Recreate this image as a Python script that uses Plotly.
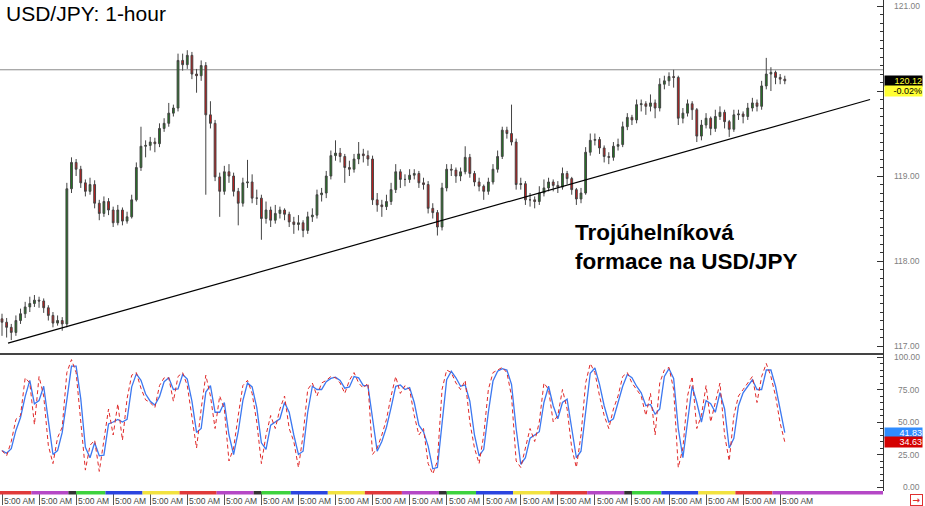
import plotly.graph_objects as go

# ---------------- data ----------------
first_open = 117.32
close = [117.28,117.22,117.16,117.30,117.38,117.46,117.50,117.54,117.53,117.45,
117.36,117.27,117.30,117.26,118.85,119.16,119.08,118.92,118.82,118.90,
118.68,118.56,118.70,118.60,118.45,118.60,118.47,118.52,118.72,119.10,
119.35,119.36,119.40,119.38,119.56,119.62,119.74,119.80,120.36,120.31,
120.42,120.20,120.18,120.30,119.72,119.62,118.99,118.82,119.05,119.00,
118.82,118.68,118.92,118.93,118.74,118.74,118.50,118.60,118.48,118.56,
118.60,118.55,118.46,118.43,118.45,118.36,118.52,118.54,118.78,118.80,
119.00,119.24,119.27,119.23,119.10,119.08,119.20,119.26,119.24,119.20,
118.72,118.66,118.64,118.70,118.84,119.05,118.96,118.96,119.01,119.03,
118.92,118.90,118.62,118.57,118.40,118.86,119.08,119.07,119.00,119.05,
119.22,119.03,118.93,118.88,118.82,118.93,119.08,119.23,119.54,119.50,
119.40,118.90,118.91,118.72,118.72,118.70,118.80,118.86,118.93,118.89,
118.87,119.03,118.97,118.84,118.73,118.80,119.28,119.42,119.43,119.33,
119.23,119.22,119.35,119.37,119.58,119.69,119.66,119.84,119.85,119.82,
119.86,119.80,120.08,120.12,120.17,120.16,119.68,119.74,119.85,119.78,
119.47,119.60,119.68,119.56,119.70,119.75,119.64,119.55,119.72,119.73,
119.70,119.80,119.86,119.82,120.06,120.20,120.22,120.16,120.14,120.12]

high = [117.38,117.33,117.26,117.36,117.44,117.52,117.58,117.60,117.58,117.56,
117.48,117.40,117.36,117.34,118.92,119.22,119.20,119.12,118.96,118.98,
118.95,118.72,118.76,118.74,118.64,118.66,118.63,118.58,118.78,119.16,
119.58,119.42,119.46,119.45,119.62,119.68,119.86,119.84,120.44,120.44,
120.48,120.46,120.26,120.36,120.34,119.88,119.66,119.04,119.12,119.14,
119.04,118.86,118.98,119.19,119.02,118.84,118.78,118.70,118.64,118.66,
118.64,118.62,118.58,118.52,118.54,118.48,118.58,118.62,118.84,118.86,
119.06,119.30,119.42,119.33,119.26,119.18,119.26,119.40,119.32,119.30,
119.24,118.80,118.72,118.78,118.92,119.14,119.08,119.02,119.08,119.08,
119.06,118.98,118.94,118.68,118.60,118.92,119.14,119.14,119.10,119.10,
119.35,119.26,119.06,118.98,118.90,118.98,119.14,119.30,119.58,119.58,
119.84,119.44,118.98,118.94,118.80,118.76,118.88,118.96,118.98,118.96,
118.94,119.10,119.06,118.99,118.86,118.86,119.34,119.50,119.50,119.46,
119.36,119.28,119.40,119.44,119.64,119.74,119.72,119.90,119.90,119.88,
119.96,119.90,120.15,120.18,120.22,120.25,120.18,119.80,119.90,119.88,
119.80,119.66,119.74,119.70,119.78,119.82,119.78,119.66,119.78,119.78,
119.76,119.86,119.92,119.90,120.12,120.39,120.28,120.24,120.20,120.18]

low = [117.12,117.10,117.07,117.12,117.26,117.33,117.40,117.46,117.45,117.39,
117.30,117.22,117.24,117.18,117.22,118.80,119.00,118.86,118.76,118.78,
118.62,118.48,118.52,118.54,118.40,118.42,118.42,118.44,118.50,118.70,
119.06,119.22,119.30,119.28,119.34,119.52,119.58,119.70,119.76,120.24,
120.26,120.14,119.98,120.12,118.78,119.56,118.94,118.52,118.78,118.92,
118.76,118.42,118.64,118.86,118.68,118.66,118.25,118.44,118.40,118.44,
118.50,118.48,118.40,118.32,118.36,118.28,118.32,118.46,118.50,118.70,
118.74,118.96,119.18,119.16,118.92,119.00,119.04,119.14,119.16,119.12,
118.66,118.58,118.52,118.60,118.66,118.80,118.86,118.88,118.92,118.96,
118.86,118.84,118.56,118.50,118.30,118.36,118.82,119.00,118.92,118.94,
119.02,118.98,118.88,118.82,118.72,118.78,118.90,119.04,119.20,119.44,
119.36,118.84,118.84,118.66,118.64,118.62,118.66,118.76,118.82,118.82,
118.80,118.84,118.90,118.78,118.66,118.68,118.78,119.24,119.36,119.26,
119.16,119.14,119.18,119.30,119.34,119.54,119.60,119.62,119.76,119.72,
119.76,119.68,119.76,120.02,120.06,120.04,119.60,119.62,119.70,119.66,
119.40,119.42,119.56,119.48,119.52,119.66,119.56,119.46,119.52,119.66,
119.62,119.66,119.76,119.76,119.78,120.02,120.00,120.08,120.08,120.08]

# stochastic %K (red)
stoch_k = [28,24,35,52,55,84,80,48,85,70,
32,18,38,46,88,98,88,48,13,32,
36,12,37,60,40,64,36,68,86,88,
76,67,65,61,78,84,84,66,85,88,
78,54,30,60,86,70,45,70,60,20,
30,55,78,82,72,50,18,40,55,45,
60,70,45,35,15,40,75,80,70,80,
82,85,84,80,72,82,88,80,76,80,
25,30,40,52,70,85,72,78,75,55,
40,45,18,10,20,75,90,88,80,75,
82,50,30,18,40,75,88,90,92,88,
70,20,15,30,45,35,50,80,75,50,
55,75,60,30,15,40,80,95,88,70,
55,45,60,70,85,88,80,75,70,55,
72,40,80,90,92,75,15,30,70,85,
45,55,78,50,65,80,40,20,55,70,
75,80,85,65,85,95,85,70,49.03,34.63]

candle_hours = 3            # each candle spans 3 hours
day_ticks = list(range(0, 505, 24))
day_label = "5:00 AM"
price_ticks = [117, 118, 119, 120, 121]
stoch_ticks = [0, 25, 50, 75, 100]
resistance = 120.25
trend_x = [3.9, 562.2]
trend_y = [117.035, 119.90]
pct_change = "-0.02%"
title_text = "USD/JPY: 1-hour"
note_text = "Trojúhelníková<br>formace na USD/JPY"
# session colour strip (hour boundaries and colours)
sess_bounds = [-1.3, 19, 43, 48, 67, 91, 115, 139, 163, 168, 187, 211, 235, 259, 283, 288,
               307, 331, 355, 379, 403, 408, 427, 451, 475, 499, 571]
sess_cycle = ["#e03a3a", "#b548c6", "#333333", "#3ed23e", "#2b45e0", "#f2e240"]

# ---------------- derived ----------------
n = len(close)
x = [candle_hours * i for i in range(n)]
opens = [first_open] + close[:-1]
stoch_d = [stoch_k[0]] + [(stoch_k[i] + stoch_k[i - 1]) / 2 for i in range(1, n)]

FONT = "Liberation Sans, Arial, sans-serif"
W, H = 925, 506
ML, MR, MT, MB = 0, 42, 0, 15
PW, PH = W - ML - MR, H - MT - MB
split = (PH - 353) / PH
xr = [-1.3, 570.6]
yr_main = [116.918, 121.071]
yr_st = [-3.08, 103.08]

fig = go.Figure()
fig.add_trace(go.Candlestick(
    x=x, open=opens, high=high, low=low, close=close,
    increasing=dict(fillcolor="#1f7a1f", line=dict(color="#444444", width=1)),
    decreasing=dict(fillcolor="#d01818", line=dict(color="#444444", width=1)),
    whiskerwidth=0, xaxis="x", yaxis="y", showlegend=False, hoverinfo="skip"))
fig.add_trace(go.Scatter(x=trend_x, y=trend_y, mode="lines",
                         line=dict(color="black", width=1.2),
                         xaxis="x", yaxis="y", showlegend=False, hoverinfo="skip"))
fig.add_trace(go.Scatter(x=x, y=stoch_d, mode="lines",
                         line=dict(color="#3c78f0", width=1.3),
                         xaxis="x2", yaxis="y2", showlegend=False, hoverinfo="skip"))
fig.add_trace(go.Scatter(x=x, y=stoch_k, mode="lines",
                         line=dict(color="#e02a2a", width=1.0, dash="4px,3px"),
                         xaxis="x2", yaxis="y2", showlegend=False, hoverinfo="skip"))

shapes = [dict(type="line", xref="paper", yref="y", x0=0, x1=1, y0=resistance, y1=resistance,
               line=dict(color="#8a8a8a", width=1), layer="below")]
for i in range(len(sess_bounds) - 1):
    shapes.append(dict(type="rect", xref="x2", yref="paper",
                       x0=sess_bounds[i], x1=sess_bounds[i + 1],
                       y0=-3.5 / PH, y1=0, fillcolor=sess_cycle[i % len(sess_cycle)],
                       line=dict(width=0), layer="above"))

ann = []
ann.append(dict(text=title_text, xref="paper", yref="paper", x=4 / PW, y=1.0,
                xanchor="left", yanchor="top", showarrow=False,
                font=dict(family=FONT, size=21, color="black")))
ann.append(dict(text="<b>" + note_text.replace("<br>", "</b><br><b>") + "</b>",
                xref="paper", yref="paper", x=573 / PW, y=1 - 247 / PH,
                xanchor="left", yanchor="middle", align="left", showarrow=False,
                font=dict(family=FONT, size=22.5, color="black")))
lab_x = 922 / PW
last_close = close[-1]
for v in price_ticks:
    if abs(v - last_close) < 0.2:
        continue  # hidden behind the last-price boxes, as in the original
    ann.append(dict(text=f"{v:.2f}", xref="paper", yref="y", x=lab_x, y=v,
                    xanchor="right", yanchor="middle", showarrow=False,
                    font=dict(family=FONT, size=8.5, color="#808080")))
for v in stoch_ticks:
    ann.append(dict(text=f"{v:.2f}", xref="paper", yref="y2", x=lab_x, y=v,
                    xanchor="right", yanchor="middle", showarrow=False,
                    font=dict(family=FONT, size=8.5, color="#808080")))
box_x = 884 / PW
ann.append(dict(text=f"{last_close:.2f}", xref="paper", yref="y", x=box_x, y=last_close,
                xanchor="left", yanchor="middle", showarrow=False, align="right",
                width=37, borderpad=0, bgcolor="black",
                font=dict(family=FONT, size=9, color="#ffff33")))
ann.append(dict(text=pct_change, xref="paper", yref="y", x=box_x, y=last_close, yshift=-10.5,
                xanchor="left", yanchor="middle", showarrow=False, align="right",
                width=37, borderpad=0, bgcolor="#ffff33",
                font=dict(family=FONT, size=9, color="black")))
ann.append(dict(text=f"{stoch_d[-1]:.2f}", xref="paper", yref="y2", x=box_x, y=stoch_d[-1],
                xanchor="left", yanchor="middle", showarrow=False, align="right",
                width=37, borderpad=0, bgcolor="#2f8cff",
                font=dict(family=FONT, size=9, color="white")))
ann.append(dict(text=f"{stoch_k[-1]:.2f}", xref="paper", yref="y2", x=box_x, y=stoch_k[-1],
                xanchor="left", yanchor="middle", showarrow=False, align="right",
                width=37, borderpad=0, bgcolor="#d40000",
                font=dict(family=FONT, size=9, color="white")))
for d in day_ticks:
    ann.append(dict(text=day_label, xref="x2", yref="paper", x=d, y=-4 / PH,
                    xanchor="left", yanchor="top", xshift=1, showarrow=False, borderpad=0,
                    font=dict(family=FONT, size=8.5, color="#444444")))
ann.append(dict(text="<b>→</b>", xref="paper", yref="paper", x=916.5 / PW, y=-9.5 / PH,
                xanchor="center", yanchor="middle", showarrow=False, borderpad=0,
                bordercolor="#e03030", borderwidth=1, width=11, height=10,
                font=dict(family="DejaVu Sans", size=9, color="#e03030")))

axis_common = dict(showgrid=False, zeroline=False)
fig.update_layout(
    width=W, height=H, margin=dict(l=ML, r=MR, t=MT, b=MB),
    paper_bgcolor="white", plot_bgcolor="white", boxgap=0.45,
    xaxis=dict(domain=[0, 1], anchor="y", range=xr, showticklabels=False, ticks="",
               showline=True, linecolor="#444444", linewidth=1.5,
               rangeslider=dict(visible=False), **axis_common),
    xaxis2=dict(domain=[0, 1], anchor="y2", range=xr, matches="x", showticklabels=False,
                tickmode="array", tickvals=day_ticks, ticks="outside", ticklen=13,
                tickcolor="#555555", tickwidth=1, showline=False, **axis_common),
    yaxis=dict(domain=[split, 1], anchor="x", side="right", range=yr_main,
               tickmode="array", tickvals=price_ticks, ticks="inside", ticklen=6,
               tickcolor="#333333", showticklabels=False, showline=True,
               linecolor="#333333", linewidth=1,
               minor=dict(ticks="inside", ticklen=3, dtick=0.1, tick0=117,
                          tickcolor="#333333"), **axis_common),
    yaxis2=dict(domain=[0, split], anchor="x2", side="right", range=yr_st,
                tickmode="array", tickvals=stoch_ticks, ticks="inside", ticklen=6,
                tickcolor="#333333", showticklabels=False, showline=True,
                linecolor="#333333", linewidth=1,
                minor=dict(ticks="inside", ticklen=3, dtick=5, tick0=0,
                           tickcolor="#333333"), **axis_common),
    shapes=shapes, annotations=ann, showlegend=False,
)

fig.write_html("out.html", config={"displayModeBar": False},
               post_script="document.body.style.margin='0';document.body.style.overflow='hidden';")
